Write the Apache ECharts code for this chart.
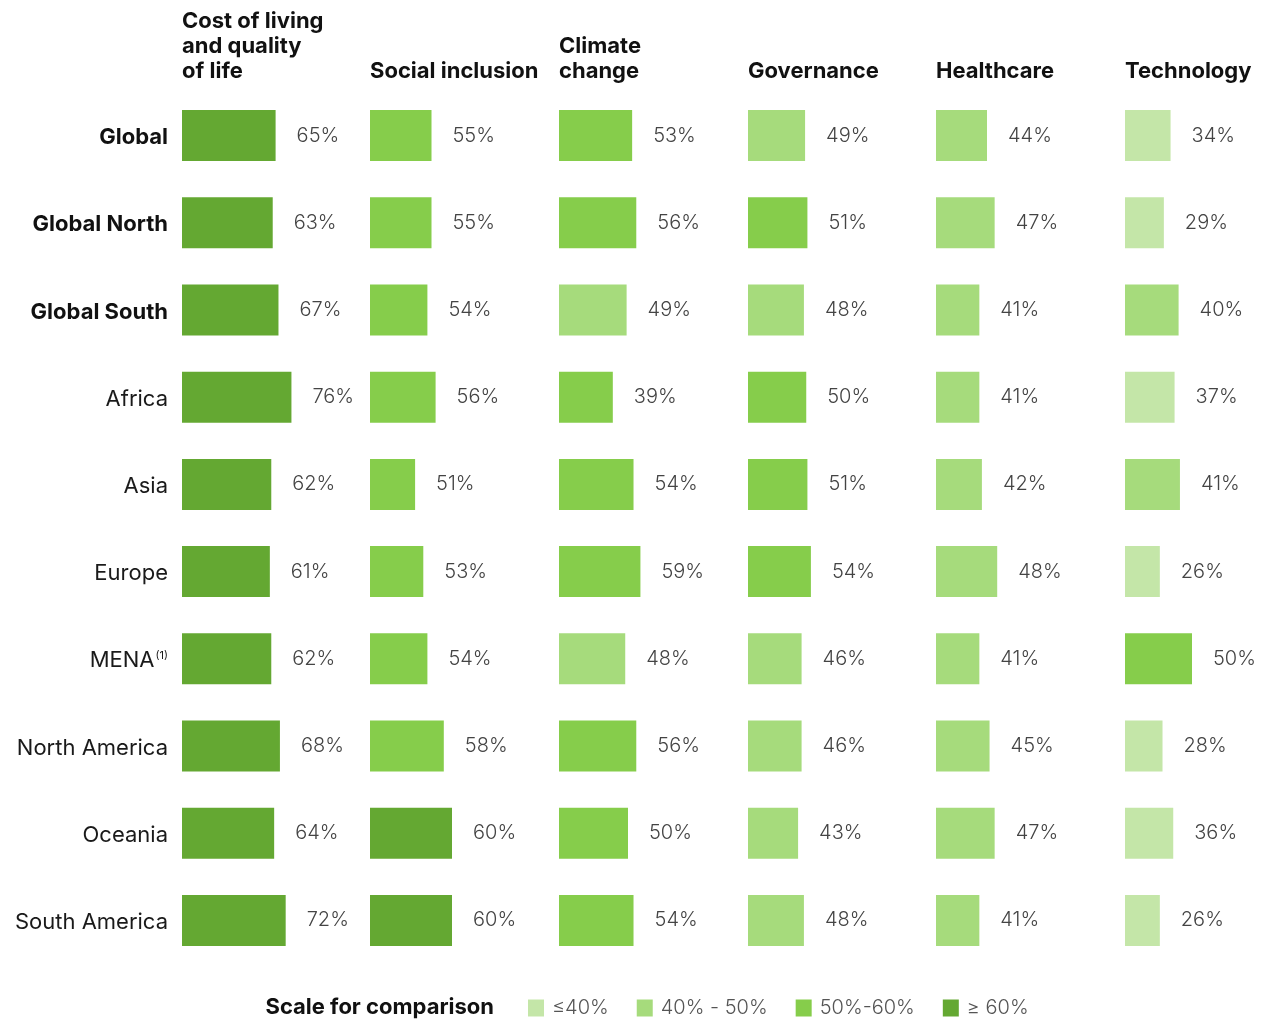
<!DOCTYPE html>
<html>
<head>
<meta charset="utf-8">
<title>Priorities by region</title>
<script src="https://cdn.jsdelivr.net/npm/echarts@6/dist/echarts.min.js"></script>
<style>
  html, body { margin: 0; padding: 0; background: #ffffff; }
  #chart { width: 1262px; height: 1019px; }
</style>
</head>
<body>
<div id="chart"></div>
<script>
// Regions (rows) and topic shares (columns), in percent
const regions = ['Global', 'Global North', 'Global South', 'Africa', 'Asia', 'Europe',
                 'MENA', 'North America', 'Oceania', 'South America'];
const boldRows = 3; // first three rows are aggregates

const topics = ['Cost of living\nand quality\nof life', 'Social inclusion', 'Climate\nchange',
                'Governance', 'Healthcare', 'Technology'];

const costOfLiving = [65, 63, 67, 76, 62, 61, 62, 68, 64, 72];
const socialInclusion = [55, 55, 54, 56, 51, 53, 54, 58, 60, 60];
const climateChange = [53, 56, 49, 39, 54, 59, 48, 56, 50, 54];
const governance = [49, 51, 48, 50, 51, 54, 46, 46, 43, 48];
const healthcare = [44, 47, 41, 41, 42, 48, 41, 45, 47, 41];
const technology = [34, 29, 40, 37, 41, 26, 50, 28, 36, 26];

const columns = [costOfLiving, socialInclusion, climateChange, governance, healthcare, technology];

// Comparison scale
const scaleLabels = ['≤40%', '40% - 50%', '50%-60%', '≥ 60%'];
const scaleBreaks = [40, 50, 60];
const scaleColors = ['#c4e6a8', '#a6db7c', '#86cd4b', '#64a832'];

// Shade exceptions as published: [column, row, shade index]
const shadeExceptions = [[2, 3, 2]];

// Layout of each column panel: left edge, axis range, pixels per percentage point
const panelLeft = [182, 370, 559, 748, 936, 1125];
const panelAxis = [
  { min: 0, max: 100, ppu: 1.44 },
  { min: 40, max: 80, ppu: 4.1 },
  { min: 0, max: 100, ppu: 1.38 },
  { min: 0, max: 100, ppu: 1.165 },
  { min: 24, max: 80, ppu: 2.55 },
  { min: 0, max: 100, ppu: 1.34 }
];

const FONT = 'Inter, "Noto Sans", sans-serif';
const TEXT_SIZE = 22;

function shadeIndex(v) {
  let i = 0;
  while (i < scaleBreaks.length && v >= scaleBreaks[i]) i++;
  return i;
}

const grids = [], xAxes = [], yAxes = [], series = [];

columns.forEach((vals, c) => {
  const ax = panelAxis[c];
  grids.push({
    left: panelLeft[c], top: 92, height: 872,
    width: ax.ppu * (ax.max - ax.min), containLabel: false
  });
  xAxes.push({
    type: 'value', gridIndex: c, min: ax.min, max: ax.max, show: false
  });
  yAxes.push({
    type: 'category', gridIndex: c, inverse: true, data: regions,
    axisLine: { show: false }, axisTick: { show: false }, splitLine: { show: false },
    axisLabel: c === 0 ? {
      show: true, margin: 14, fontFamily: FONT, fontSize: TEXT_SIZE, color: '#111',
      padding: [4, 0, 0, 0],
      formatter: (name, idx) => {
        if (idx < boldRows) return '{b|' + name + '}';
        if (name === 'MENA') return '{n|MENA}{sup|(1)}';
        return '{n|' + name + '}';
      },
      rich: {
        b: { fontFamily: FONT, fontSize: TEXT_SIZE, fontWeight: 'bold', color: '#111' },
        n: { fontFamily: FONT, fontSize: TEXT_SIZE, color: '#1a1a1a' },
        sup: { fontFamily: FONT, fontSize: 11, color: '#1a1a1a', padding: [0, 0, 11, 1] }
      }
    } : { show: false }
  });
  series.push({
    type: 'bar', xAxisIndex: c, yAxisIndex: c, data: vals,
    barWidth: 51, clip: true, silent: true,
    itemStyle: {
      color: (p) => {
        const ex = shadeExceptions.find(e => e[0] === c && e[1] === p.dataIndex);
        return scaleColors[ex ? ex[2] : shadeIndex(p.value)];
      }
    },
    label: {
      show: true, position: 'right', distance: 21,
      formatter: (p) => p.value + '%',
      fontFamily: FONT, fontSize: 20, fontWeight: 300, color: '#444',
      padding: [3, 0, 0, 0]
    }
  });
});

// Legend entries for the comparison scale
scaleLabels.forEach((name, i) => {
  series.push({
    type: 'line', name: name, xAxisIndex: 0, yAxisIndex: 0, data: [],
    itemStyle: { color: scaleColors[i] }, lineStyle: { color: scaleColors[i] }
  });
});

const headerGraphics = topics.map((t, c) => ({
  type: 'text', x: panelLeft[c], y: 84, silent: true,
  style: {
    text: t, fill: '#111', font: 'bold ' + TEXT_SIZE + 'px ' + FONT, lineHeight: 25,
    verticalAlign: 'bottom', align: 'left'
  }
}));

const option = {
  backgroundColor: '#ffffff',
  animation: false,
  grid: grids,
  xAxis: xAxes,
  yAxis: yAxes,
  series: series,
  legend: {
    data: scaleLabels, left: 523, top: 993, icon: 'rect',
    itemWidth: 16, itemHeight: 17, itemGap: 28, selectedMode: false,
    textStyle: { fontFamily: FONT, fontSize: 20, fontWeight: 300, color: '#555', padding: [0, 0, 0, 3] }
  },
  graphic: headerGraphics.concat([{
    type: 'text', x: 494, y: 1007, silent: true,
    style: {
      text: 'Scale for comparison', fill: '#111', font: 'bold ' + TEXT_SIZE + 'px ' + FONT,
      align: 'right', verticalAlign: 'middle'
    }
  }])
};

const chart = echarts.init(document.getElementById('chart'));
chart.setOption(option);
</script>
</body>
</html>
